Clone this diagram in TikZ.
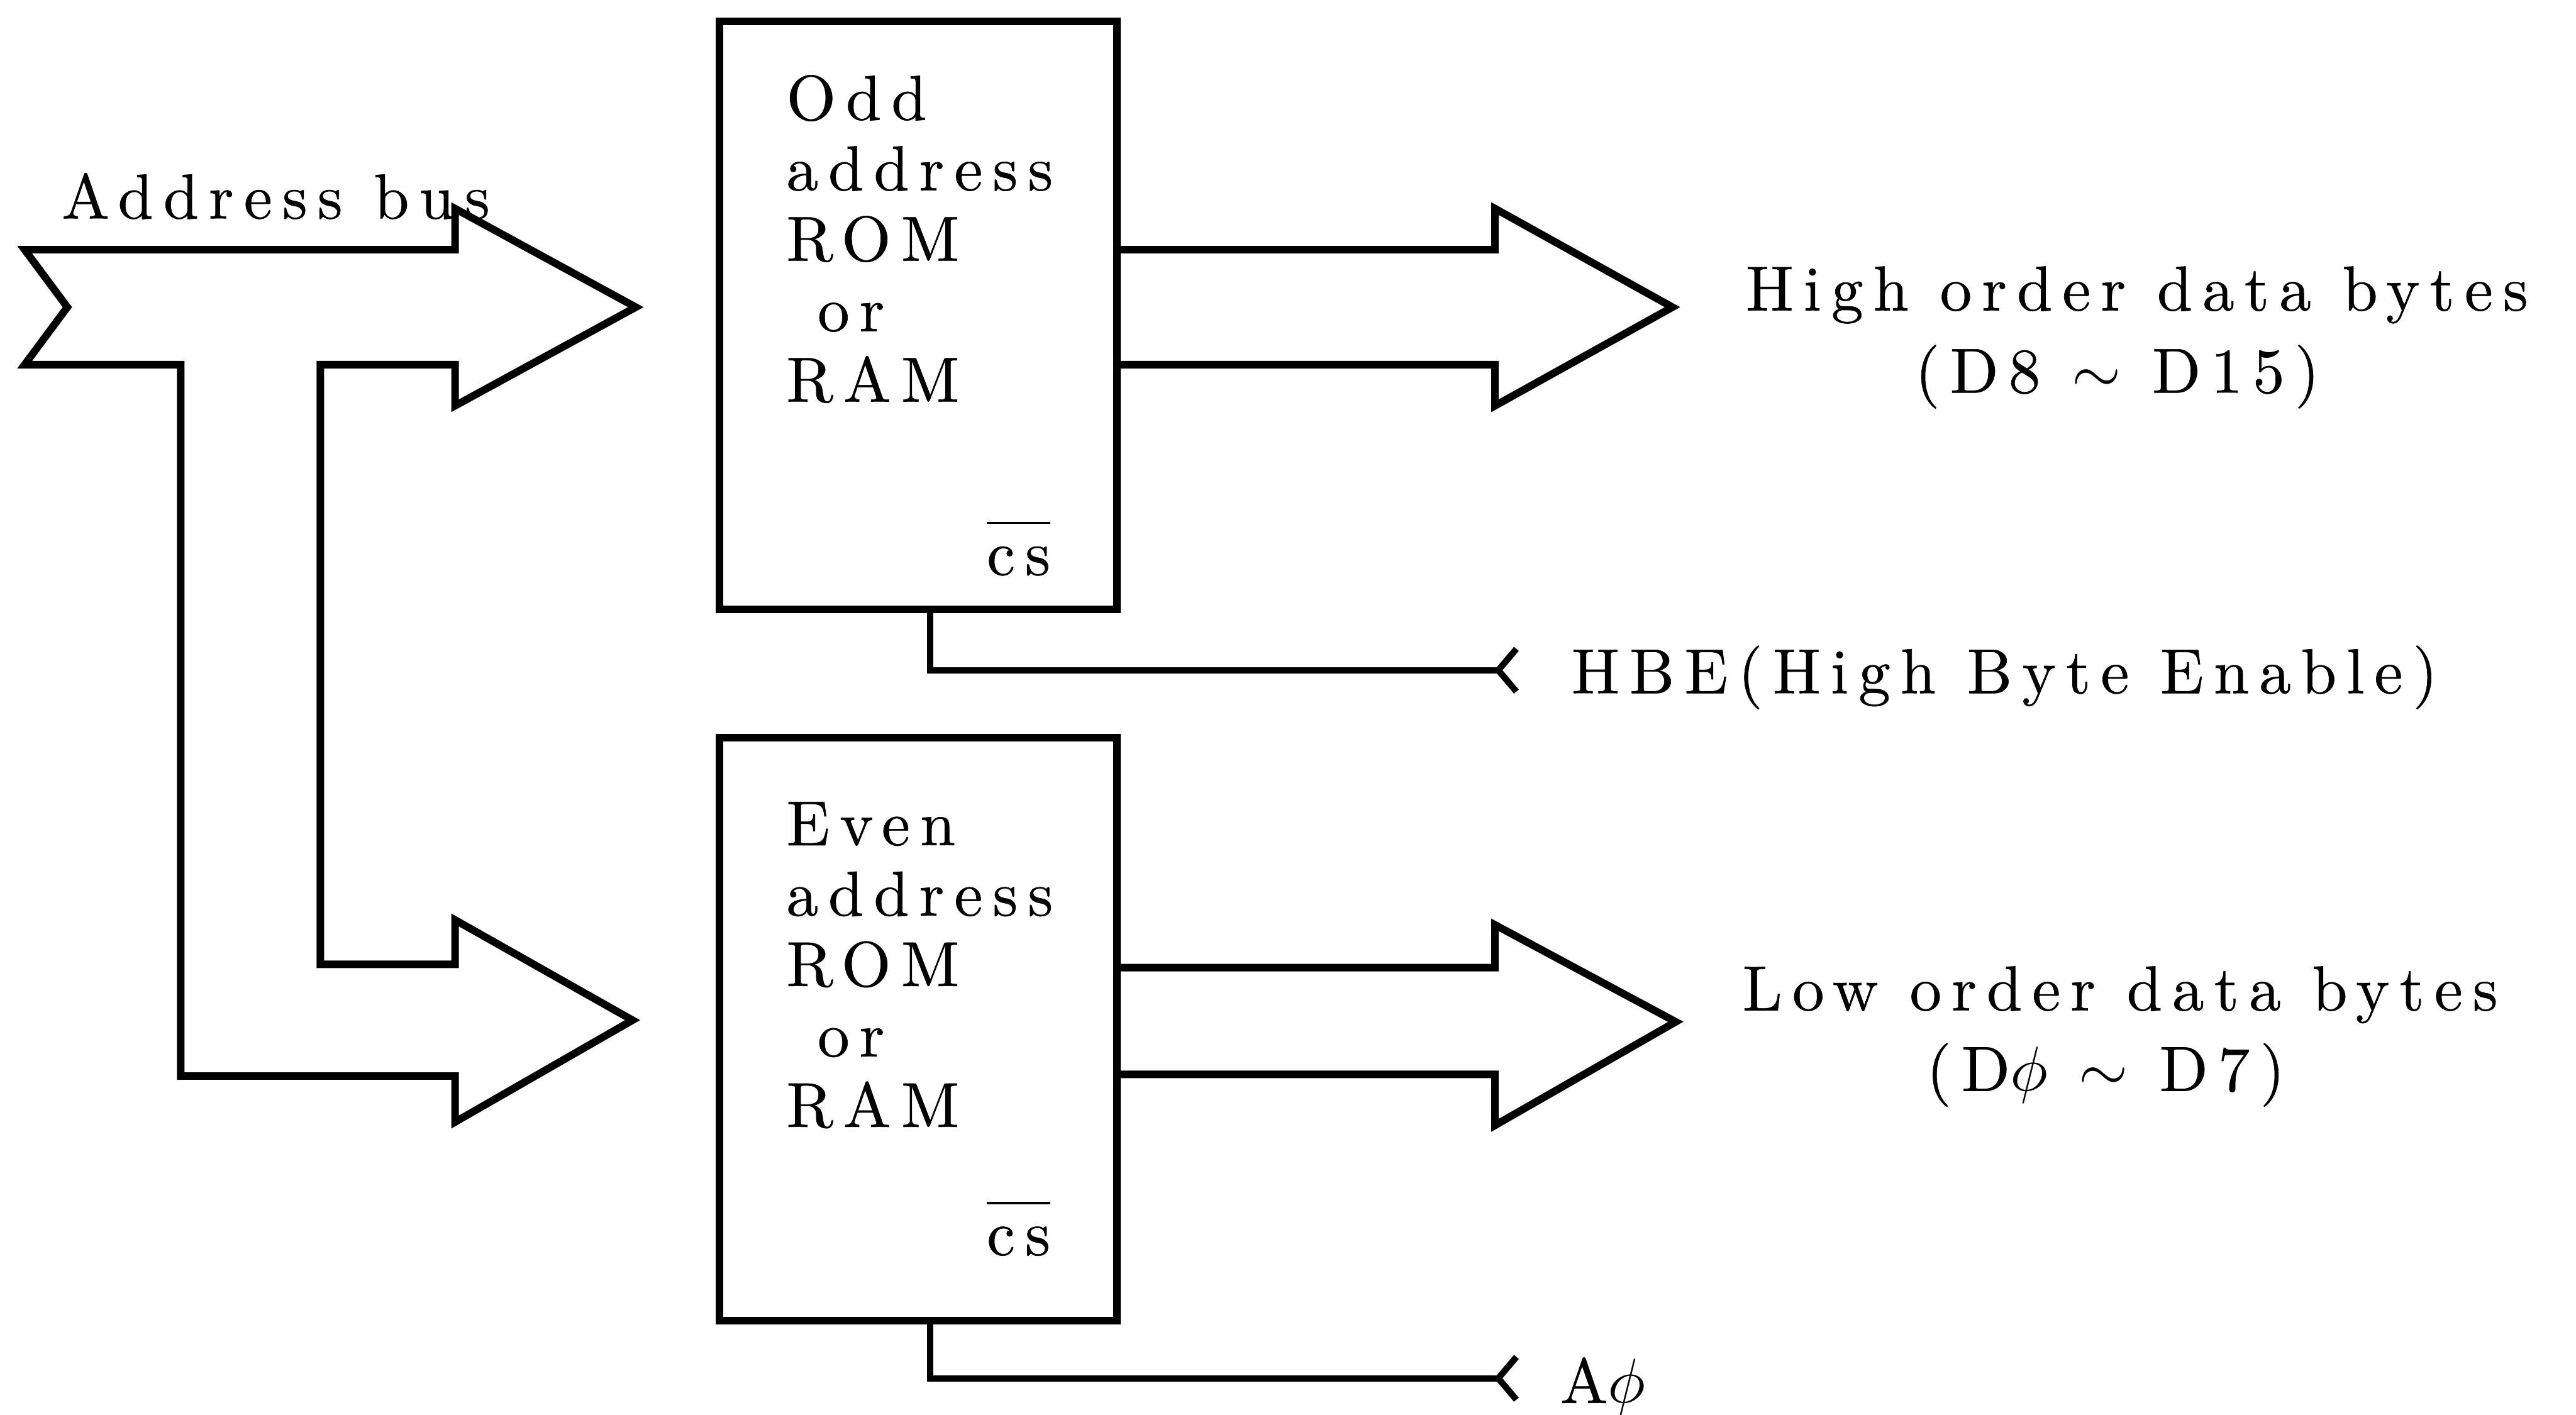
\documentclass[tikz,border=0pt]{standalone}
\usepackage{fontspec}
\newfontfamily\spacedfont{lmroman10-regular.otf}[LetterSpace=16, FakeBold=0.6]

\tikzset{
    every node/.style={font=\spacedfont\fontsize{11}{12.2}\selectfont, inner sep=0pt},
    membox/.style={draw, line width=1.3pt, minimum width=2.42cm},
    busline/.style={line width=1.3pt, line join=miter},
    sigline/.style={line width=1.1pt}
}
\newcommand{\chipsel}{$\overline{\mbox{cs}\vphantom{l}}$}

\begin{document}
\begin{tikzpicture}
            \useasboundingbox (0,0) rectangle (15.68,8.61);

            % Address bus - splits into two branches
            \draw[busline] (0.15,7.09) -- (2.77,7.09) -- (2.77,7.34) -- (3.87,6.74) -- (2.77,6.14) -- (2.77,6.39)
                -- (1.95,6.39) -- (1.95,2.74) -- (2.77,2.74) -- (2.77,3.01) -- (3.85,2.40) -- (2.77,1.78) -- (2.77,2.06)
                -- (1.10,2.06) -- (1.10,6.39) -- (0.15,6.39) -- (0.41,6.74) -- cycle;
            \node[anchor=base west] (addrbus) at (0.37,7.28) {Address bus};

            % Memory - odd address
            \node[membox, minimum height=3.58cm] (odd) at (5.59,6.69) {};
            \node[anchor=north west, align=left] (oddtext) at (4.78,8.16) {Odd\\address\\ROM\\\hspace*{0.19cm}or\\RAM};
            \node[anchor=base west] (oddcs) at (6.00,5.11) {\chipsel};

            % Memory - even address
            \node[membox, minimum height=3.55cm] (even) at (5.59,2.345) {};
            \node[anchor=north west, align=left] (eventext) at (4.78,3.735) {Even\\address\\ROM\\\hspace*{0.19cm}or\\RAM};
            \node[anchor=base west] (evencs) at (6.00,0.97) {\chipsel};

            % Data bus - high byte
            \draw[busline] (6.80,7.09) -- (9.10,7.09) -- (9.10,7.34) -- (10.18,6.74) -- (9.10,6.14) -- (9.10,6.39) -- (6.80,6.39);
            \node[anchor=base west] (high) at (10.62,6.72) {High order data bytes};
            \node[anchor=base west] (highrange) at (11.65,6.22) {(D8 $\sim$ D15)};

            % Data bus - low byte
            \draw[busline] (6.80,2.72) -- (9.10,2.72) -- (9.10,2.98) -- (10.20,2.39) -- (9.10,1.76) -- (9.10,2.07) -- (6.80,2.07);
            \node[anchor=base west] (low) at (10.60,2.46) {Low order data bytes};
            \node[anchor=base west] (lowrange) at (11.72,1.97) {(D$\phi$ $\sim$ D7)};

            % Chip select - HBE
            \coordinate (hbeend) at (9.12,4.53);
            \draw[sigline] ([xshift=0.07cm]odd.south) |- (hbeend);
            \draw[sigline] (hbeend) -- ++(0.11,0.13) (hbeend) -- ++(0.11,-0.13);
            \node[anchor=base west] (hbe) at (9.56,4.39) {HBE(High Byte Enable)};

            % Chip select - A0
            \coordinate (azeroend) at (9.12,0.22);
            \draw[sigline] ([xshift=0.07cm]even.south) |- (azeroend);
            \draw[sigline] (azeroend) -- ++(0.11,0.13) (azeroend) -- ++(0.11,-0.13);
            \node[anchor=base west] (azero) at (9.49,0.07) {A$\phi$};

\end{tikzpicture}
\end{document}
